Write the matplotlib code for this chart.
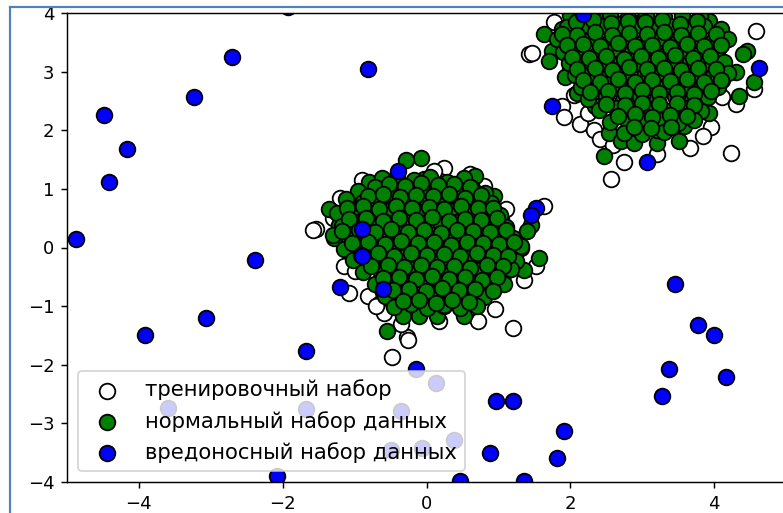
import numpy as np
import matplotlib.pyplot as plt
from matplotlib.lines import Line2D

# тренировочный набор (белые)
train_x = [0.24, 0.19, 0.80, 1.10, -1.54, -1.58, -1.20, -1.15, -0.99, -1.08, -0.82, -0.66, -0.59,
           -0.27, 0.71, 1.21, 1.08, 1.52, 1.63, 0.17, 0.33, -0.48, -0.26, 0.55, -0.70, 0.95, 1.35,
           0.60, -1.30, -0.90, 0.10, -0.35,
           1.42, 1.47, 1.77, 1.89, 1.91, 2.14, 2.33, 2.42, 2.74, 2.56, 3.67, 4.23, 4.58, 4.11, 4.55,
           4.09, 2.05, 2.25, 3.95, 4.30, 3.85, 2.60, 3.20, 3.70, 2.00]
train_y = [1.36, 1.13, 1.05, 0.65, 0.31, 0.30, 0.85, -0.32, -0.40, -0.78, -0.83, -0.97, -1.12,
           -1.52, -1.26, -1.37, -0.43, -0.32, 0.71, -1.26, 0.99, -1.86, -1.57, -1.10, -1.00, -1.05,
           -0.55, 1.25, 0.50, 1.15, 1.30, -1.30,
           3.30, 3.32, 3.84, 2.42, 2.22, 2.10, 2.00, 1.85, 1.45, 1.16, 1.70, 1.62, 3.70, 2.56, 2.70,
           3.67, 2.60, 2.30, 2.05, 2.45, 1.90, 1.75, 1.60, 2.20, 3.05]

# нормальный набор данных (зелёные)
norm_x = [-0.08, -0.29, -0.80, -1.36, -1.22, -1.29, -1.08, -0.89, -1.06, 0.68, 0.94, 1.03, 1.45,
          1.40, 1.31, 1.56, 1.35, 1.12, 0.52, 0.15, -0.11, -0.32, -0.45, -0.55, 0.24, -0.04,
          -0.62, -0.41, -0.18, 0.05, 0.28, 0.52,
          -0.95, -0.72, -0.50, -0.27, -0.05, 0.18, 0.40, 0.63, 0.82,
          -1.12, -0.88, -0.66, -0.44, -0.21, 0.01, 0.24, 0.46, 0.69, 0.90,
          -1.25, -1.01, -0.78, -0.55, -0.32, -0.10, 0.13, 0.35, 0.58, 0.80, 1.02,
          -1.18, -0.95, -0.71, -0.49, -0.26, -0.03, 0.20, 0.42, 0.65, 0.87, 1.10,
          -1.30, -1.05, -0.83, -0.60, -0.37, -0.14, 0.09, 0.31, 0.54, 0.76, 0.99, 1.20,
          -1.15, -0.92, -0.69, -0.46, -0.23, 0.00, 0.22, 0.45, 0.68, 0.90, 1.12, 1.32,
          -1.02, -0.79, -0.56, -0.33, -0.10, 0.13, 0.36, 0.59, 0.81, 1.04, 1.25,
          -0.88, -0.65, -0.42, -0.19, 0.04, 0.27, 0.50, 0.73, 0.95, 1.18,
          -0.72, -0.49, -0.26, -0.03, 0.20, 0.43, 0.66, 0.88, 1.08,
          -0.58, -0.35, -0.12, 0.11, 0.34, 0.57, 0.80,
          -0.45, -0.22, 0.01, 0.24, 0.47, 0.70,
          -0.52, -0.30, -0.07, 0.16, 0.38, 0.60,
          -0.82, -0.60, -0.37, -0.14, 0.09, 0.31, 0.54, 0.76,
          -1.10, -0.88, -0.66, -0.43, -0.20, 0.03, 0.25, 0.48, 0.71, 0.93,
          -1.08, -0.84, -0.61, -0.38, -0.15, 0.08, 0.31, 0.53, 0.76, 0.98,
          -1.18, -0.94, -0.72, -0.49, -0.26, -0.03, 0.20, 0.43, 0.65, 0.88, 1.10,
          -1.04, -0.81, -0.58, -0.35, -0.12, 0.11, 0.34, 0.57, 0.79, 1.01, 1.22,
          -0.91, -0.68, -0.45, -0.22, 0.01, 0.24, 0.47, 0.70, 0.92, 1.14,
          -0.77, -0.54, -0.31, -0.08, 0.15, 0.38, 0.61, 0.84, 1.06,
          -0.61, -0.38, -0.15, 0.08, 0.31, 0.54, 0.77, 0.98,
          -0.47, -0.24, -0.01, 0.22, 0.45, 0.68, 0.92,
          -0.33, -0.10, 0.13, 0.36, 0.59,
          1.63, 1.89, 2.12, 1.75, 1.70, 1.93, 2.10, 2.35, 2.54, 2.47, 2.70, 2.88, 3.21, 3.51, 3.58,
          3.93, 4.11, 4.30, 4.46, 4.40, 4.55, 4.34, 3.93, 4.00, 2.42, 2.74, 3.02, 3.63, 3.90, 3.21,
          2.00, 2.30, 2.55, 2.80, 3.05, 3.30, 3.55, 3.80,
          1.95, 2.20, 2.43, 2.67, 2.90, 3.14, 3.38, 3.62, 3.86, 4.10,
          1.82, 2.06, 2.30, 2.54, 2.78, 3.02, 3.26, 3.50, 3.74, 3.98, 4.20,
          1.90, 2.14, 2.38, 2.62, 2.86, 3.10, 3.34, 3.58, 3.82, 4.05,
          1.98, 2.22, 2.46, 2.70, 2.94, 3.18, 3.42, 3.66, 3.90, 4.14,
          2.06, 2.30, 2.54, 2.78, 3.02, 3.26, 3.50, 3.74, 3.98, 4.20,
          2.15, 2.39, 2.63, 2.87, 3.11, 3.35, 3.59, 3.83, 4.05,
          2.25, 2.49, 2.73, 2.97, 3.21, 3.45, 3.69, 3.92,
          2.40, 2.64, 2.88, 3.12, 3.36, 3.60, 3.82,
          2.55, 2.79, 3.03, 3.27, 3.50, 3.72,
          2.75, 3.00, 3.30,
          2.08, 2.32, 2.56, 2.80, 3.04, 3.28, 3.52, 3.76,
          1.88, 2.10, 2.34, 2.58, 2.82, 3.06, 3.30, 3.54, 3.78, 4.02,
          1.95, 2.18, 2.42, 2.66, 2.90, 3.14, 3.38, 3.62, 3.86, 4.10,
          2.02, 2.26, 2.50, 2.74, 2.98, 3.22, 3.46, 3.70, 3.94,
          2.10, 2.34, 2.58, 2.82, 3.06, 3.30, 3.54, 3.78, 4.02,
          2.18, 2.42, 2.66, 2.90, 3.14, 3.38, 3.62, 3.86, 4.10,
          2.28, 2.52, 2.76, 3.00, 3.24, 3.48, 3.72, 3.96,
          2.50, 2.76, 3.00, 3.24, 3.48, 3.72,
          2.66, 2.90, 3.14, 3.38, 3.62,
          2.88, 3.12, 3.40]
norm_y = [1.53, 1.50, 1.11, 0.65, 0.39, 0.17, 0.74, 0.74, -0.03, 1.22, 0.88, 0.48, 0.39,
          0.28, 0.00, -0.18, -0.38, -0.15, -1.17, -1.17, -1.17, -1.17, -1.00, -1.43, -1.00, 1.16,
          1.18, 1.22, 1.15, 1.21, 1.12, 1.19,
          0.97, 1.03, 0.95, 1.01, 0.94, 1.04, 0.96, 1.02, 0.93,
          0.82, 0.78, 0.84, 0.77, 0.83, 0.76, 0.81, 0.75, 0.83, 0.76,
          0.58, 0.62, 0.56, 0.63, 0.57, 0.61, 0.55, 0.62, 0.57, 0.63, 0.55,
          0.37, 0.43, 0.38, 0.42, 0.36, 0.41, 0.37, 0.44, 0.36, 0.42, 0.35,
          0.22, 0.18, 0.24, 0.17, 0.23, 0.16, 0.22, 0.15, 0.24, 0.18, 0.23, 0.16,
          -0.02, 0.04, -0.03, 0.03, -0.04, 0.02, -0.03, 0.04, -0.02, 0.03, -0.04, 0.02,
          -0.22, -0.18, -0.24, -0.17, -0.23, -0.16, -0.22, -0.18, -0.24, -0.17, -0.23,
          -0.42, -0.38, -0.44, -0.37, -0.43, -0.36, -0.42, -0.38, -0.44, -0.37,
          -0.62, -0.58, -0.64, -0.57, -0.63, -0.56, -0.62, -0.58, -0.63,
          -0.82, -0.78, -0.84, -0.77, -0.83, -0.79, -0.84,
          -1.02, -0.97, -1.03, -0.98, -1.04, -0.99,
          1.08, 1.05, 1.10, 1.06, 1.09, 1.04,
          0.88, 0.91, 0.86, 0.90, 0.87, 0.92, 0.85, 0.89,
          0.68, 0.70, 0.66, 0.71, 0.67, 0.69, 0.65, 0.70, 0.67, 0.68,
          0.48, 0.51, 0.46, 0.50, 0.47, 0.52, 0.45, 0.49, 0.47, 0.50,
          0.28, 0.30, 0.26, 0.31, 0.27, 0.29, 0.25, 0.30, 0.28, 0.26, 0.29,
          0.08, 0.10, 0.06, 0.11, 0.07, 0.09, 0.05, 0.10, 0.08, 0.06, 0.09,
          -0.12, -0.10, -0.14, -0.09, -0.13, -0.11, -0.15, -0.10, -0.12, -0.14,
          -0.32, -0.30, -0.34, -0.29, -0.33, -0.31, -0.35, -0.30, -0.32,
          -0.52, -0.50, -0.54, -0.49, -0.53, -0.51, -0.55, -0.50,
          -0.72, -0.70, -0.74, -0.69, -0.73, -0.71, -0.74,
          -0.92, -0.90, -0.94, -0.89, -0.93,
          3.64, 3.73, 3.73, 3.36, 3.18, 2.90, 2.64, 2.42, 1.96, 1.56, 1.82, 1.79, 1.79, 1.82, 2.07,
          2.30, 2.85, 2.99, 3.36, 3.30, 2.82, 2.59, 3.87, 3.47, 3.90, 3.84, 3.90, 3.84, 2.74, 2.00,
          3.97, 3.93, 3.98, 3.94, 3.99, 3.93, 3.97, 3.95,
          3.76, 3.72, 3.78, 3.73, 3.77, 3.71, 3.78, 3.74, 3.77, 3.72,
          3.55, 3.52, 3.57, 3.51, 3.56, 3.52, 3.58, 3.53, 3.57, 3.52, 3.56,
          3.33, 3.37, 3.32, 3.38, 3.34, 3.36, 3.31, 3.37, 3.33, 3.38,
          3.14, 3.18, 3.12, 3.17, 3.13, 3.18, 3.12, 3.16, 3.14, 3.17,
          2.94, 2.98, 2.92, 2.97, 2.93, 2.98, 2.92, 2.96, 2.93, 2.97,
          2.74, 2.78, 2.72, 2.77, 2.73, 2.78, 2.72, 2.76, 2.73,
          2.54, 2.58, 2.52, 2.57, 2.53, 2.58, 2.52, 2.56,
          2.34, 2.38, 2.32, 2.37, 2.33, 2.38, 2.32,
          2.14, 2.18, 2.12, 2.17, 2.13, 2.17,
          1.96, 1.93, 1.97,
          3.85, 3.88, 3.83, 3.87, 3.84, 3.88, 3.82, 3.86,
          3.65, 3.63, 3.67, 3.62, 3.66, 3.64, 3.68, 3.63, 3.66, 3.64,
          3.45, 3.47, 3.43, 3.48, 3.44, 3.46, 3.42, 3.47, 3.44, 3.46,
          3.25, 3.23, 3.27, 3.22, 3.26, 3.24, 3.28, 3.23, 3.26,
          3.05, 3.07, 3.03, 3.08, 3.04, 3.06, 3.02, 3.07, 3.05,
          2.85, 2.83, 2.87, 2.82, 2.86, 2.84, 2.88, 2.83, 2.86,
          2.65, 2.67, 2.63, 2.68, 2.64, 2.66, 2.62, 2.67,
          2.45, 2.43, 2.47, 2.44, 2.46, 2.43,
          2.25, 2.27, 2.23, 2.26, 2.24,
          2.05, 2.03, 2.06]

# вредоносный набор данных (синие)
out_x = [-4.49, -4.42, -4.16, -4.87, -2.71, -3.23, -0.81, -2.39, -3.91, -3.07, -1.67, -3.60,
         -2.08, -1.67, -0.39, -0.90, -0.90, -1.20, -0.60, 1.52, 1.45, -0.14, 0.13, -0.36, 0.38,
         -0.50, -0.06, 0.96, 1.21, 0.89, 1.82, 1.91, 0.47, 1.36, 3.27, 4.17, 3.37, 3.46, 3.77,
         4.00, 4.63, 1.75, 3.07, 2.17, -1.92]
out_y = [2.26, 1.11, 1.68, 0.14, 3.25, 2.56, 3.04, -0.22, -1.50, -1.21, -1.76, -2.74,
         -3.90, -2.75, 1.30, 0.32, -0.15, -0.67, -0.70, 0.68, 0.56, -2.07, -2.31, -2.79, -3.28,
         -3.46, -3.42, -2.62, -2.62, -3.50, -3.59, -3.13, -3.98, -3.98, -2.53, -2.21, -2.07, -0.63,
         -1.32, -1.50, 3.06, 2.42, 1.45, 3.98, 4.10]

labels = ["тренировочный набор", "нормальный набор данных", "вредоносный набор данных"]

dpi = 130
fig = plt.figure(figsize=(783 / dpi, 513 / dpi), dpi=dpi)
ax = fig.add_axes([67 / 783, 31 / 513, 719 / 783, 469 / 513])

s = 75
b1 = ax.scatter(train_x, train_y, c="white", s=s, edgecolors="k", linewidths=1)
b2 = ax.scatter(norm_x, norm_y, c="green", s=s, edgecolors="k", linewidths=1)
c = ax.scatter(out_x, out_y, c="blue", s=s, edgecolors="k", linewidths=1)

ax.set_xlim(-5, 5)
ax.set_ylim(-4, 4)
ax.legend([b1, b2, c], labels, loc="lower left", fontsize=11.7)

# рамка скриншота
col = "#4f81bd"
fig.add_artist(Line2D([10 / 783, 10 / 783], [0, 1 - 7 / 513], color=col, lw=1.2,
                      transform=fig.transFigure))
fig.add_artist(Line2D([10 / 783, 1], [1 - 7 / 513, 1 - 7 / 513], color=col, lw=1.2,
                      transform=fig.transFigure))

fig.savefig("out.png", dpi=dpi)
